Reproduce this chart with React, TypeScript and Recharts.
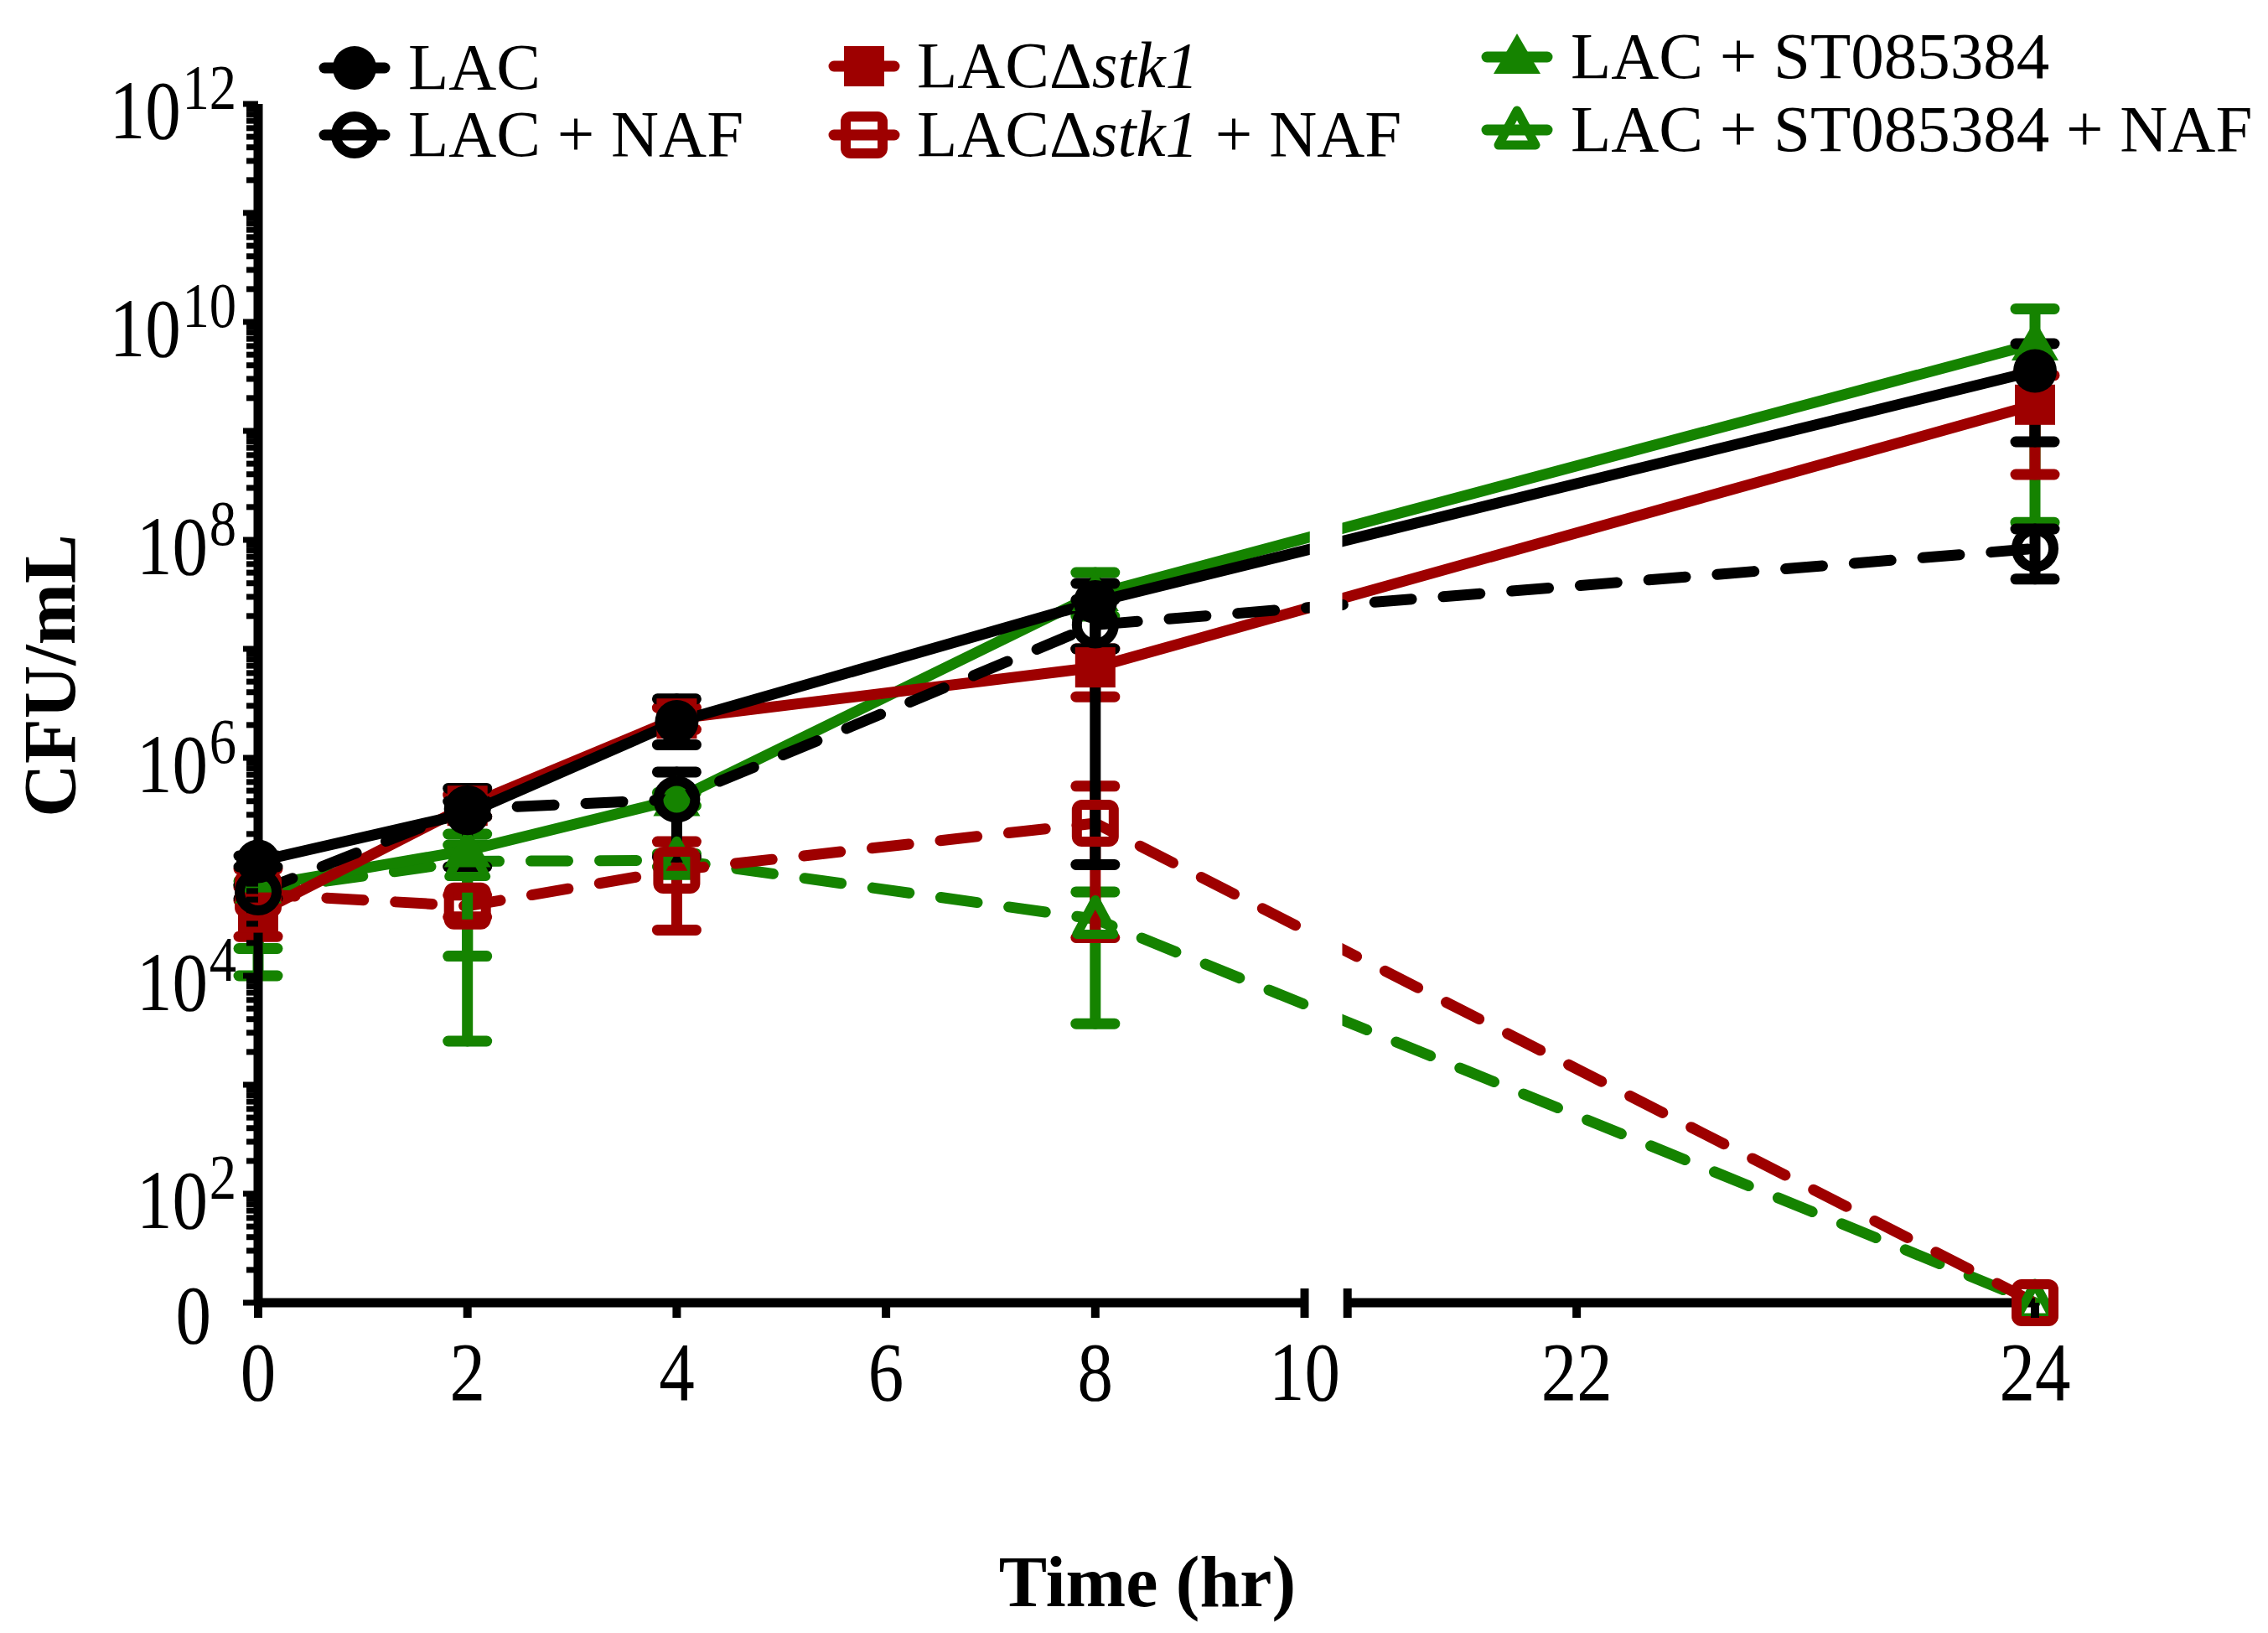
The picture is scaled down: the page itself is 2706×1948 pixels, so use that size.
import React from "react";
import {
  LineChart,
  Line,
  XAxis,
  YAxis,
  ErrorBar,
  ReferenceLine,
  ReferenceArea,
} from "recharts";

// sampling times (hr)
const hours = [0, 2, 4, 8, 24];

// log10(CFU/mL); the axis "0" sits at 10^1
const lac = [5.05, 5.49, 6.33, 7.43, 9.55];
const lacHigh = [5.1, 5.72, 6.54, 7.6, 9.8];
const lacLow = [5.0, 5.0, 6.12, 7.0, 8.9];

const lacNaf = [4.77, 5.53, 5.62, 7.22, 7.92];
const lacNafHigh = [4.83, 5.6, 5.87, 7.45, 8.1];
const lacNafLow = [4.71, 5.46, 5.09, 5.02, 7.64];

const stk = [4.58, 5.56, 6.36, 6.83, 9.24];
const stkHigh = [4.98, 5.66, 6.46, 7.0, 9.51];
const stkLow = [4.36, 5.46, 6.26, 6.56, 8.6];

const stkNaf = [4.75, 4.64, 4.97, 5.4, 1];
const stkNafHigh = [4.81, 4.74, 5.23, 5.74, 1];
const stkNafLow = [4.69, 4.54, 4.42, 4.35, 1];

const st = [4.82, 5.15, 5.62, 7.5, 9.8];
const stHigh = [4.87, 5.3, 5.68, 7.7, 10.12];
const stLow = [4.25, 4.18, 5.56, 7.3, 8.16];

const stNaf = [4.78, 5.05, 5.06, 4.52, 1];
const stNafHigh = [4.83, 5.2, 5.12, 4.77, 1];
const stNafLow = [4.0, 3.4, 5.0, 3.56, 1];

const xTickHours = [0, 2, 4, 6, 8, 10, 21, 22, 24];
const yLabelled = [1, 2, 4, 6, 8, 10, 12];

const BLACK = "#000000";
const RED = "#9e0000";
const GREEN = "#158300";
const FONT = "'Liberation Serif', 'Times New Roman', serif";

// broken time axis: 0-10 h, then 21-24 h stretched
const BREAK_FROM = 10;
const BREAK_TO = 21;
const GAP = 0.41;
const STRETCH = 2.19;
const toPos = (h: number) =>
  h <= BREAK_FROM ? h : BREAK_FROM + GAP + (h - BREAK_TO) * STRETCH;
const fromPos = (p: number) =>
  p <= BREAK_FROM + 1e-6
    ? Math.round(p)
    : Math.round(BREAK_TO + (p - BREAK_FROM - GAP) / STRETCH);

const yTicks: number[] = [];
for (let d = 1; d <= 12; d++) {
  yTicks.push(d);
  if (d < 12) for (let k = 2; k <= 9; k++) yTicks.push(d + Math.log10(k));
}

type Shape = "circle" | "square" | "triangle";

type Series = {
  key: string;
  label: React.ReactNode;
  color: string;
  shape: Shape;
  open: boolean;
  dashed: boolean;
  values: number[];
  low: number[];
  high: number[];
};

const stkLabel = (
  <>
    LACΔ<tspan fontStyle="italic">stk1</tspan>
  </>
);

const series: Series[] = [
  { key: "lac", label: "LAC", color: BLACK, shape: "circle", open: false, dashed: false, values: lac, low: lacLow, high: lacHigh },
  { key: "lacNaf", label: "LAC + NAF", color: BLACK, shape: "circle", open: true, dashed: true, values: lacNaf, low: lacNafLow, high: lacNafHigh },
  { key: "stk", label: stkLabel, color: RED, shape: "square", open: false, dashed: false, values: stk, low: stkLow, high: stkHigh },
  { key: "stkNaf", label: <>{stkLabel} + NAF</>, color: RED, shape: "square", open: true, dashed: true, values: stkNaf, low: stkNafLow, high: stkNafHigh },
  { key: "st", label: "LAC + ST085384", color: GREEN, shape: "triangle", open: false, dashed: false, values: st, low: stLow, high: stHigh },
  { key: "stNaf", label: "LAC + ST085384 + NAF", color: GREEN, shape: "triangle", open: true, dashed: true, values: stNaf, low: stNafLow, high: stNafHigh },
];

// paint order: black on top
const drawOrder = ["stNaf", "stkNaf", "st", "stk", "lacNaf", "lac"];

const rows = hours.map((h, i) => {
  const row: Record<string, any> = { pos: toPos(h) };
  series.forEach((s) => {
    row[s.key] = s.values[i];
    row[s.key + "Err"] =
      s.low[i] === s.high[i]
        ? null
        : [s.values[i] - s.low[i], s.high[i] - s.values[i]];
  });
  return row;
});

function Marker({ cx, cy, s }: { cx: number; cy: number; s: Series }) {
  const fill = s.open ? "none" : s.color;
  if (s.shape === "circle") {
    return s.open ? (
      <circle cx={cx} cy={cy} r={22} fill="none" stroke={s.color} strokeWidth={12} />
    ) : (
      <circle cx={cx} cy={cy} r={26} fill={s.color} />
    );
  }
  if (s.shape === "square") {
    const half = s.open ? 22 : 24;
    return (
      <rect
        x={cx - half}
        y={cy - half}
        width={half * 2}
        height={half * 2}
        rx={s.open ? 6 : 0}
        fill={fill}
        stroke={s.open ? s.color : "none"}
        strokeWidth={s.open ? 12 : 0}
      />
    );
  }
  const pts = s.open
    ? `${cx},${cy - 23} ${cx + 22},${cy + 18} ${cx - 22},${cy + 18}`
    : `${cx},${cy - 28} ${cx + 28},${cy + 20} ${cx - 28},${cy + 20}`;
  return (
    <polygon
      points={pts}
      fill={fill}
      stroke={s.open ? s.color : "none"}
      strokeWidth={s.open ? 11 : 0}
      strokeLinejoin="round"
    />
  );
}

// tick numbers in the figure are narrower than the font, squeeze them a bit
function NarrowText({ x, y, size, anchor, children }: any) {
  return (
    <text
      transform={`translate(${x},${y}) scale(0.85,1)`}
      textAnchor={anchor}
      fontSize={size}
      fontFamily={FONT}
      fill={BLACK}
    >
      {children}
    </text>
  );
}

function YTick(props: any) {
  const { x, y, payload } = props;
  const v = payload.value as number;
  const d = Math.round(v);
  const decade = Math.abs(v - d) < 1e-6;
  const len = decade ? 18 : 14;
  const labelled = decade && yLabelled.includes(d);
  return (
    <g>
      <line x1={x - len} x2={x} y1={y} y2={y} stroke={BLACK} strokeWidth={7} />
      {labelled && d === 1 && (
        <NarrowText x={x - 56} y={y + 48} size={100} anchor="end">
          0
        </NarrowText>
      )}
      {labelled && d > 1 && (
        <NarrowText x={x - 26} y={y + 41} size={100} anchor="end">
          <tspan>10</tspan>
          <tspan fontSize={76} dx={2} dy={-35}>
            {d}
          </tspan>
        </NarrowText>
      )}
    </g>
  );
}

function XTick(props: any) {
  const { x, y, payload } = props;
  const h = fromPos(payload.value);
  const breakEnd = h === BREAK_FROM || h === BREAK_TO;
  return (
    <g>
      <line x1={x} x2={x} y1={breakEnd ? y - 17 : y} y2={y + 18} stroke={BLACK} strokeWidth={10} />
      {h !== BREAK_TO && (
        <NarrowText x={x} y={y + 116} size={100} anchor="middle">
          {h}
        </NarrowText>
      )}
    </g>
  );
}

const legendCols = [
  { mx: 423, tx: 487, ys: [81, 161], bases: [106, 186] },
  { mx: 1031, tx: 1094, ys: [79, 161], bases: [104, 186] },
  { mx: 1810, tx: 1874, ys: [68, 155], bases: [93, 180] },
];

function ChartLegend() {
  return (
    <svg width={2706} height={220} style={{ position: "absolute", left: 0, top: 0 }}>
      {series.map((s, i) => {
        const col = legendCols[Math.floor(i / 2)];
        const r = i % 2;
        const y = col.ys[r];
        return (
          <g key={s.key}>
            <line x1={col.mx - 36} x2={col.mx + 36} y1={y} y2={y} stroke={s.color} strokeWidth={13} strokeLinecap="round" />
            <Marker cx={col.mx} cy={y} s={s} />
            <text x={col.tx} y={col.bases[r]} fontSize={79} fontFamily={FONT} fill={BLACK}>
              {s.label}
            </text>
          </g>
        );
      })}
    </svg>
  );
}

export default function App() {
  const ordered = drawOrder.map((k) => series.find((s) => s.key === k)!);
  return (
    <div style={{ position: "absolute", left: 0, top: 0, width: 2706, height: 1948, background: "#fff" }}>
      <LineChart
        width={2706}
        height={1948}
        data={rows}
        margin={{ top: 124, right: 278, bottom: 294, left: 208 }}
      >
        <XAxis
          type="number"
          dataKey="pos"
          domain={[0, toPos(24)]}
          ticks={xTickHours.map(toPos)}
          interval={0}
          axisLine={false}
          tickLine={false}
          tickSize={0}
          tickMargin={0}
          height={100}
          tick={(p: any) => <XTick {...p} />}
        />
        <YAxis
          type="number"
          domain={[1, 12]}
          ticks={yTicks}
          interval={0}
          width={100}
          tickSize={0}
          tickMargin={0}
          tickLine={false}
          axisLine={{ stroke: BLACK, strokeWidth: 11 }}
          tick={(p: any) => <YTick {...p} />}
        />
        {ordered.map((s) => (
          <Line
            key={s.key}
            type="linear"
            dataKey={s.key}
            stroke={s.color}
            strokeWidth={13}
            strokeDasharray={s.dashed ? "44 38" : undefined}
            strokeLinecap={s.dashed ? "round" : "butt"}
            isAnimationActive={false}
            activeDot={false}
            dot={(p: any) => <Marker key={`${s.key}-${p.index}`} cx={p.cx} cy={p.cy} s={s} />}
          >
            <ErrorBar
              dataKey={s.key + "Err"}
              direction="y"
              width={23}
              strokeWidth={13}
              stroke={s.color}
              strokeLinecap="round"
              isAnimationActive={false}
            />
          </Line>
        ))}
        <ReferenceArea
          x1={toPos(BREAK_FROM) + 0.05}
          x2={toPos(BREAK_TO) - 0.05}
          y1={1}
          y2={12}
          fill="#fff"
          fillOpacity={1}
          stroke="none"
          zIndex={450}
        />
        <ReferenceLine
          segment={[{ x: 0, y: 1 }, { x: toPos(BREAK_FROM), y: 1 }]}
          stroke={BLACK}
          strokeWidth={11}
          ifOverflow="visible"
          zIndex={460}
        />
        <ReferenceLine
          segment={[{ x: toPos(BREAK_TO), y: 1 }, { x: toPos(24), y: 1 }]}
          stroke={BLACK}
          strokeWidth={11}
          ifOverflow="visible"
          zIndex={460}
        />
      </LineChart>
      <ChartLegend />
      <div
        style={{
          position: "absolute",
          left: 60,
          top: 806,
          transform: "translate(-50%, -50%) rotate(-90deg)",
          fontFamily: FONT,
          fontWeight: "bold",
          fontSize: 88,
          whiteSpace: "nowrap",
          lineHeight: 1,
        }}
      >
        CFU/mL
      </div>
      <div
        style={{
          position: "absolute",
          left: 1369,
          top: 1887,
          transform: "translate(-50%, -50%)",
          fontFamily: FONT,
          fontWeight: "bold",
          fontSize: 86,
          whiteSpace: "nowrap",
          lineHeight: 1,
        }}
      >
        Time (hr)
      </div>
    </div>
  );
}
